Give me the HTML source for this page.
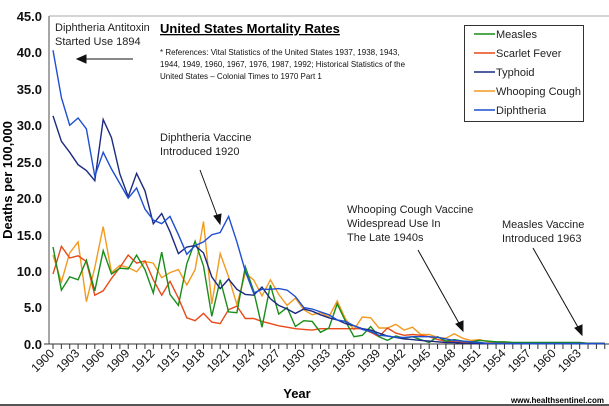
<!DOCTYPE html>
<html><head><meta charset="utf-8"><style>
body{margin:0;background:#fff;}
svg{display:block;font-family:"Liberation Sans",sans-serif;}
</style></head><body>
<svg id="s" width="609" height="406" viewBox="0 0 609 406" xmlns="http://www.w3.org/2000/svg">
<rect width="609" height="406" fill="#fff"/>
<line x1="49" y1="16" x2="609" y2="16" stroke="#aaa" stroke-width="1"/>
<line x1="49" y1="16" x2="49" y2="344" stroke="#888" stroke-width="1.5"/>
<line x1="44" y1="344" x2="609" y2="344" stroke="#333" stroke-width="1"/>
<g font-size="13" font-weight="bold" text-anchor="end" fill="#111">
<text x="42" y="21">45.0</text><text x="42" y="57">40.0</text><text x="42" y="94">35.0</text>
<text x="42" y="130">30.0</text><text x="42" y="167">25.0</text><text x="42" y="203">20.0</text>
<text x="42" y="240">15.0</text><text x="42" y="276">10.0</text><text x="42" y="312">5.0</text>
<text x="42" y="349">0.0</text>
</g>
<g id="ticks" stroke="#333" stroke-width="1"></g>
<g id="xl" font-size="12" fill="#111"></g>
<g id="series" fill="none" stroke-width="1.4"></g>
<text x="12" y="180" font-size="13" font-weight="bold" text-anchor="middle" transform="rotate(-90 12 180)">Deaths per 100,000</text>
<text x="297" y="398" font-size="13" font-weight="bold" text-anchor="middle">Year</text>
<text x="604" y="403" font-size="8" font-weight="bold" text-anchor="end">www.healthsentinel.com</text>
<line x1="0" y1="405" x2="609" y2="405" stroke="#555" stroke-width="2"/>
<text x="160" y="33" font-size="13" font-weight="bold" text-decoration="underline">United States Mortality Rates</text>
<g font-size="8" fill="#111"><text x="160" y="55">* References: Vital Statistics of the United States 1937, 1938, 1943,</text>
<text x="160" y="67">1944, 1949, 1960, 1967, 1976, 1987, 1992; Historical Statistics of the</text>
<text x="160" y="79">United States – Colonial Times to 1970 Part 1</text></g>
<g font-size="11" fill="#222">
<text x="55" y="31">Diphtheria Antitoxin</text><text x="55" y="45">Started Use 1894</text>
<text x="160" y="141">Diphtheria Vaccine</text><text x="160" y="155">Introduced 1920</text>
<text x="347" y="213">Whooping Cough Vaccine</text><text x="347" y="227">Widespread Use In</text><text x="347" y="241">The Late 1940s</text>
<text x="502" y="228">Measles Vaccine</text><text x="502" y="242">Introduced 1963</text>
</g>
<g stroke="#111" stroke-width="1" fill="#111">
<line x1="133" y1="59" x2="84" y2="59"/><polygon points="77,59 86,55 86,63"/>
<line x1="200" y1="170" x2="218" y2="218"/><polygon points="220,224 214,216 221,214"/>
<line x1="418" y1="250" x2="460" y2="325"/><polygon points="463,331 456,324 463,321"/>
<line x1="533" y1="248" x2="579" y2="329"/><polygon points="582,335 575,328 582,325"/>
</g>
<rect x="464.5" y="25.5" width="119" height="96" fill="#fff" stroke="#333"/>
<g font-size="11" fill="#222">
<line x1="474" y1="34" x2="495" y2="34" stroke="#1a8c1a" stroke-width="1.5"/><text x="496" y="38">Measles</text>
<line x1="474" y1="53" x2="495" y2="53" stroke="#e84a1a" stroke-width="1.5"/><text x="496" y="57">Scarlet Fever</text>
<line x1="474" y1="72" x2="495" y2="72" stroke="#1c2a80" stroke-width="1.5"/><text x="496" y="76">Typhoid</text>
<line x1="474" y1="91" x2="495" y2="91" stroke="#f39a1e" stroke-width="1.5"/><text x="496" y="95">Whooping Cough</text>
<line x1="474" y1="110" x2="495" y2="110" stroke="#1f4fd0" stroke-width="1.5"/><text x="496" y="114">Diphtheria</text>
</g>
</svg>
<script>
var NS="http://www.w3.org/2000/svg";
function X(i){return 53+i*8.36;}
function Y(v){return 344-v*7.29;}
var tk=document.getElementById('ticks'),xl=document.getElementById('xl');
for(var i=0;i<67;i++){var l=document.createElementNS(NS,'line');l.setAttribute('x1',X(i));l.setAttribute('x2',X(i));l.setAttribute('y1',344);l.setAttribute('y2',349);tk.appendChild(l);
if(i%3==0&&i<=63){var t=document.createElementNS(NS,'text');var x=X(i)+2,y=354;t.setAttribute('x',x);t.setAttribute('y',y);t.setAttribute('text-anchor','end');t.setAttribute('transform','rotate(-45 '+x+' '+y+')');t.textContent=1900+i;xl.appendChild(t);}}
function pad(a){while(a.length<67)a.push(a[a.length-1]);return a;}
var S=[
["#f39a1e",[12.2,8.5,12.5,14.0,5.8,10.5,16.1,9.8,10.8,10.5,9.9,11.3,11.1,9.1,9.8,10.2,8.1,10.2,16.8,5.5,12.4,9.2,5.4,9.7,8.8,6.6,8.8,6.8,5.3,6.3,4.7,4.0,4.3,3.7,5.9,3.4,2.0,3.7,3.6,2.2,2.2,2.7,1.9,2.3,1.3,1.3,0.9,0.8,1.4,0.8,0.5,0.6,0.3,0.2,0.15,0.1]],
["#e84a1a",[9.6,13.4,11.8,12.1,11.3,6.7,7.3,9.0,10.5,12.2,11.1,11.4,8.8,6.7,8.6,6.3,3.6,3.2,4.2,3.0,2.8,4.7,5.2,3.5,3.5,3.1,2.8,2.5,2.3,2.1,2.0,1.9,2.1,2.1,2.1,2.1,2.1,2.1,1.6,1.0,2.2,1.5,1.2,1.3,1.2,1.0,0.6,0.4,0.3,0.2,0.1]],
["#1a8c1a",[13.3,7.4,9.2,8.8,11.5,7.3,12.8,9.6,10.4,10.3,12.2,10.2,7.0,12.6,6.8,5.3,11,14.1,10.7,3.8,8.8,4.4,4.3,10.6,7.3,2.3,8.1,4.1,5.0,2.4,3.2,3.1,1.6,2.2,5.5,3.1,1.0,1.2,2.4,1.0,0.5,1.1,0.8,1.0,0.6,0.2,1.0,0.4,0.6,0.4,0.3,0.5,0.4,0.3,0.3,0.2,0.2,0.2,0.2,0.2,0.2,0.2,0.2,0.2,0.1]],
["#1c2a80",[31.3,27.8,26.3,24.6,23.8,22.4,30.8,28.3,23.3,20.2,23.4,21,16.5,17.9,15.4,12.4,13.3,13.5,12.5,9.2,7.6,8.9,7.5,6.8,6.7,7.8,6.2,5.3,4.8,4.2,4.8,4.5,4.0,3.6,3.3,2.8,2.5,2.1,1.9,1.5,1.1,0.9,0.7,0.6,0.5,0.4,0.3,0.2,0.2,0.1,0.1,0.05]],
["#1f4fd0",[40.3,33.8,30,31,29.5,23,26.3,24,22,20,21.4,18.5,17,16.5,17.5,15,12.3,13.5,14,15,15.3,17.5,14,10,7,7.5,7.5,7.6,7.4,6.5,5,4.8,4.4,4.0,3.3,3.1,2.5,2.0,1.7,1.2,1.1,0.9,0.9,1.0,1.0,1.0,0.9,0.7,0.5,0.4,0.3,0.2,0.1,0.1,0.05]]];
var g=document.getElementById('series');
S.forEach(function(s){var d=pad(s[1]),p=[];for(var i=0;i<67;i++)p.push(X(i).toFixed(1)+','+Y(d[i]).toFixed(1));var pl=document.createElementNS(NS,'polyline');pl.setAttribute('points',p.join(' '));pl.setAttribute('stroke',s[0]);g.appendChild(pl);});
</script>
</body></html>
